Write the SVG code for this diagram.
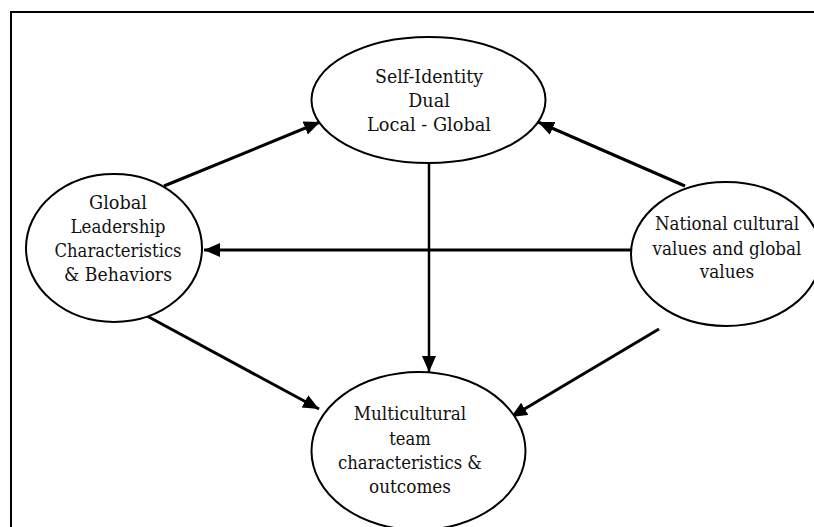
<svg xmlns="http://www.w3.org/2000/svg" width="814" height="527" viewBox="0 0 814 527">
<style>
.node ellipse{fill:#fff;stroke:#000;stroke-width:2}
.node text{font-family:'DejaVu Serif','Noto Serif',serif;font-size:19px;fill:#111;text-anchor:middle}
.edges line{stroke:#000;stroke-width:3;marker-end:url(#arr)}
</style>
<defs>
<marker id="arr" markerUnits="userSpaceOnUse" markerWidth="18" markerHeight="16" refX="16" refY="7" orient="auto">
<path d="M0,0 L16,7 L0,14 z" fill="#000"/>
</marker>
</defs>
<rect x="11" y="12" width="812" height="530" fill="#fff" stroke="#000" stroke-width="2"/>
<g class="edges">
<line x1="164" y1="186" x2="320" y2="122"/>
<line x1="685" y1="186" x2="538" y2="122"/>
<line x1="631" y1="250" x2="204" y2="250"/>
<line x1="429" y1="164" x2="429" y2="372" style="stroke-width:2.5"/>
<line x1="147" y1="316" x2="319" y2="409"/>
<line x1="659" y1="329" x2="511" y2="417"/>
</g>
<g id="self-identity" class="node">
<ellipse cx="428.5" cy="100" rx="117" ry="63"/>
<text x="429" y="83" textLength="108" lengthAdjust="spacingAndGlyphs">Self-Identity</text>
<text x="429" y="107" textLength="41.5" lengthAdjust="spacingAndGlyphs">Dual</text>
<text x="429" y="131" textLength="124" lengthAdjust="spacingAndGlyphs">Local - Global</text>
</g>
<g id="global-leadership" class="node">
<ellipse cx="114" cy="248" rx="88" ry="74"/>
<text x="118" y="209" textLength="58" lengthAdjust="spacingAndGlyphs">Global</text>
<text x="118" y="233" textLength="95" lengthAdjust="spacingAndGlyphs">Leadership</text>
<text x="118" y="257" textLength="127" lengthAdjust="spacingAndGlyphs">Characteristics</text>
<text x="118" y="281" textLength="108" lengthAdjust="spacingAndGlyphs">&amp; Behaviors</text>
</g>
<g id="national-values" class="node">
<ellipse cx="726" cy="254" rx="95" ry="72"/>
<text x="727" y="230" textLength="144" lengthAdjust="spacingAndGlyphs">National cultural</text>
<text x="727" y="255" textLength="149" lengthAdjust="spacingAndGlyphs">values and global</text>
<text x="727" y="278" textLength="54.5" lengthAdjust="spacingAndGlyphs">values</text>
</g>
<g id="multicultural-team" class="node">
<ellipse cx="418.5" cy="451" rx="107" ry="79"/>
<text x="410" y="420" textLength="112.5" lengthAdjust="spacingAndGlyphs">Multicultural</text>
<text x="410" y="445" textLength="41.5" lengthAdjust="spacingAndGlyphs">team</text>
<text x="410" y="469" textLength="144" lengthAdjust="spacingAndGlyphs">characteristics &amp;</text>
<text x="410" y="493" textLength="82" lengthAdjust="spacingAndGlyphs">outcomes</text>
</g>
</svg>
